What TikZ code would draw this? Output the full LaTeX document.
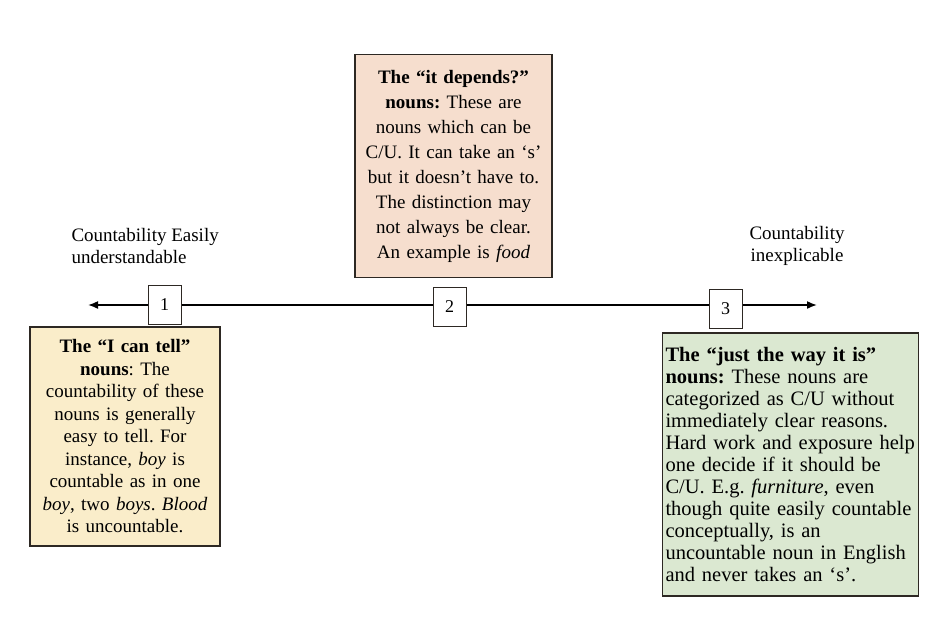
\documentclass[tikz,border=0pt]{standalone}
\usepackage{fontspec}
\setmainfont{Liberation Serif}
\usetikzlibrary{arrows.meta,positioning}
\definecolor{TellYellow}{RGB}{250,237,202}
\definecolor{DependPink}{RGB}{246,222,206}
\definecolor{WayGreen}{RGB}{219,232,209}
\definecolor{BoxLine}{RGB}{45,40,35}
\frenchspacing

\begin{document}
\begin{tikzpicture}[x=1pt,y=-1pt,
  catbox/.style={draw=BoxLine,line width=1.3pt,inner sep=0pt,align=center,
              font=\fontsize{19}{22.5}\selectfont},
  numbox/.style={draw=BoxLine,line width=1pt,fill=white,minimum width=33pt,
              minimum height=39pt,font=\fontsize{18}{20}\selectfont},
  endlabel/.style={font=\fontsize{19}{22.5}\selectfont},
]
\useasboundingbox (0,0) rectangle (933,621);
% category 2 --- it depends
\node[catbox,fill=DependPink,minimum width=197pt,minimum height=223pt,
      text width=190pt,font=\fontsize{19}{25}\selectfont] (depends) at (453.5,166) {
  \textbf{The ``it depends?''}\\
  \textbf{nouns:} These are\\
  nouns which can be\\
  C/U. It can take an `s'\\
  but it doesn't have to.\\
  The distinction may\\
  not always be clear.\\
  An example is \textit{food}\\[6pt]
};
% category 1 --- I can tell
\node[catbox,fill=TellYellow,minimum width=190pt,minimum height=219pt,
      text width=186pt] (tell) at (125,436.5) {
  \textbf{The ``I can tell''}\\
  \textbf{nouns}: The\\
  countability of these\\
  nouns is generally\\
  easy to tell. For\\
  instance, \textit{boy} is\\
  countable as in one\\
  \textit{boy}, two \textit{boys}. \textit{Blood}\\
  is uncountable.
};
% category 3 --- just the way it is
\node[catbox,fill=WayGreen,minimum width=255pt,minimum height=263pt,
      text width=250pt,align=left,inner xsep=3pt,
      font=\fontsize{20.5}{22}\selectfont] (way) at (790.5,464.5) {
  \textbf{The ``just the way it is''}\\
  \textbf{nouns:} These nouns are\\
  categorized as C/U without\\
  immediately clear reasons.\\
  Hard work and exposure help\\
  one decide if it should be\\
  C/U. E.g. \textit{furniture}, even\\
  though quite easily countable\\
  conceptually, is an\\
  uncountable noun in English\\
  and never takes an `s'.
};
% ends of the scale
\node[endlabel,align=left,anchor=west] (easy) at (68,246) {Countability Easily\\understandable};
\node[endlabel,align=center] (inexpl) at (797,246) {Countability\\inexplicable};
% scale with the three marks
\node[numbox] (n1) at (164.5,305) {1};
\node[numbox] (n2) at (449.5,307) {2};
\node[numbox] (n3) at (725.5,309) {3};
\coordinate (leftend) at (88,305);
\coordinate (rightend) at (817,305);
\draw[line width=1.6pt,-{Latex[length=10pt,width=8pt]}] (n1) -- (leftend);
\draw[line width=1.6pt] (n1.east) -- (n1.east -| n2.west);
\draw[line width=1.6pt] (n2.east |- n1.east) -- (n1.east -| n3.west);
\draw[line width=1.6pt,-{Latex[length=10pt,width=8pt]}] (n1.east -| n3.east) -- (rightend);
\end{tikzpicture}
\end{document}
